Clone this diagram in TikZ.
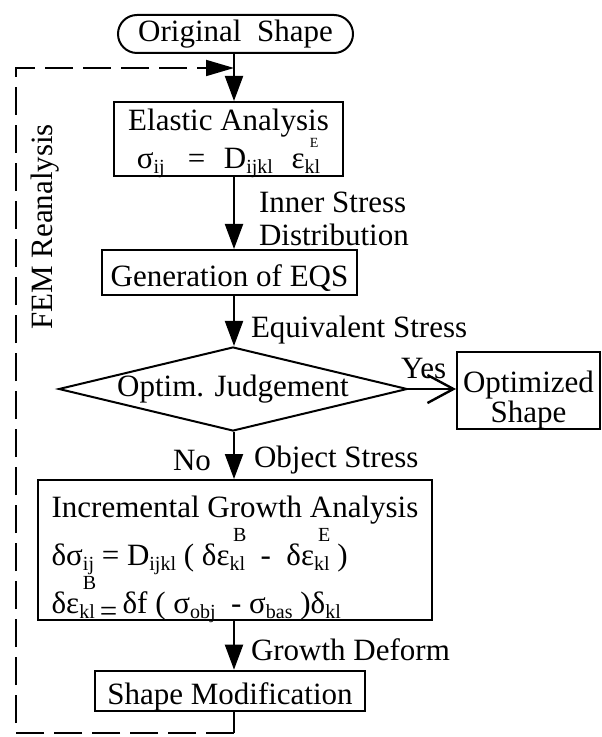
\documentclass[tikz,border=0pt]{standalone}
\usepackage{fontspec}
\setmainfont{Liberation Serif}
\usetikzlibrary{arrows.meta,shapes.geometric,calc}
\newcommand{\mainsize}{\fontsize{15.5}{18}\selectfont}
\newcommand{\ssz}{\fontsize{10}{10}\selectfont}
\newcommand{\tinysz}{\fontsize{7}{7}\selectfont}
\newcommand{\tsub}[1]{\smash{\raisebox{-0.16em}{\ssz #1}}}
\newcommand{\supsub}[4][\ssz]{\setbox0\hbox{\ssz #4}\rlap{\makebox[\wd0][c]{\smash{\raisebox{#2}{#1 #3}}}}\tsub{#4}}
\newcommand{\hstrut}[1]{\rule{0pt}{#1}}
\begin{document}
\begin{tikzpicture}[x=0.5pt,y=-0.5pt, line width=1pt,
  every node/.style={font=\mainsize},
  box/.style={draw, rectangle, inner sep=0pt, align=center},
  arr/.style={-{Triangle[length=12.5pt,width=9pt]}},
  openarr/.style={-{Straight Barb[length=13pt,width=14pt,line width=1.2pt]}},
  loopline/.style={dash pattern=on 14pt off 5pt, line width=0.9pt, -{Triangle[length=14pt,width=8pt]}},
  lbl/.style={anchor=west, inner sep=0pt}]
\useasboundingbox (0,0) rectangle (601,737);

\node[draw, rounded corners=9.5pt, minimum width=117.5pt, minimum height=19pt, inner sep=0pt] (orig) at (235.5,34) {Original~~Shape};
\node[box, minimum width=114.5pt, minimum height=37pt, font=\fontsize{15.5}{19}\selectfont] (elastic) at (228.5,139)
  {Elastic Analysis\\σ\tsub{ij}\hspace{0.75em}=\hspace{0.6em}D\tsub{ijkl}\hspace{0.6em}ε\supsub[\tinysz]{0.68em}{E}{kl}};
\node[box, minimum width=127.5pt, minimum height=22.5pt] (gen) at (229.5,272.5) {\hstrut{17pt}Generation of EQS};
\node[draw, diamond, aspect=4.15, inner sep=0pt, minimum width=170pt, minimum height=41pt] (dia) at (233,389) {Optim. Judgement};
\node[box, minimum width=71.5pt, minimum height=38.5pt, font=\fontsize{15.5}{15}\selectfont] (opt) at (528.5,390.5) {\hstrut{20pt}Optimized\\Shape};
\node[box, minimum width=197pt, minimum height=70pt, align=left, font=\fontsize{15.5}{24}\selectfont] (inc) at (235,550)
  {\hstrut{15.5pt}Incremental Growth Analysis\\
   δσ\tsub{ij} = D\tsub{ijkl} ( δε\supsub{0.78em}{B}{kl}\ \ -\ \ δε\supsub{0.78em}{E}{kl}\ )\\
   \smash{δε\supsub{0.78em}{B}{kl}\,\raisebox{-0.25em}{=}\,δf ( σ\tsub{obj}\ \ - σ\tsub{bas}\ )δ\tsub{kl}}};
\node[box, minimum width=135pt, minimum height=19pt] (mod) at (230,691) {\hstrut{17pt}Shape Modification};

\coordinate (ax) at (234,0);
\coordinate (lb) at (234,733);
\coordinate (lbl) at (16,733);
\coordinate (ltl) at (16,68);
\coordinate (lj) at (234,68);

\draw[arr] (ax |- orig.south) -- (ax |- elastic.north);
\draw[arr] (ax |- elastic.south) -- (ax |- gen.north);
\draw[arr] (ax |- gen.south) -- (ax |- dia.north);
\draw[arr] (ax |- dia.south) -- (ax |- inc.north);
\draw[arr] (ax |- inc.south) -- (ax |- mod.north);
\draw (ax |- mod.south) -- (lb);
\draw[loopline] (lb) -- (lbl) -- (ltl) -- (lj);
\draw[openarr] (dia.east) -- (dia.east -| opt.west);

\node[lbl, align=left, font=\fontsize{15.5}{16.5}\selectfont] (l1) at (258,219) {Inner Stress\\Distribution};
\node[lbl] (l2) at (250,330) {Equivalent Stress};
\node[lbl] (l3) at (400,369) {Yes};
\node[lbl] (l4) at (172,460) {No};
\node[lbl] (l5) at (253,460) {Object Stress};
\node[lbl] (l6) at (250,650) {Growth Deform};
\node[rotate=90, inner sep=0pt] (fem) at (45,227) {FEM Reanalysis};
\end{tikzpicture}
\end{document}
